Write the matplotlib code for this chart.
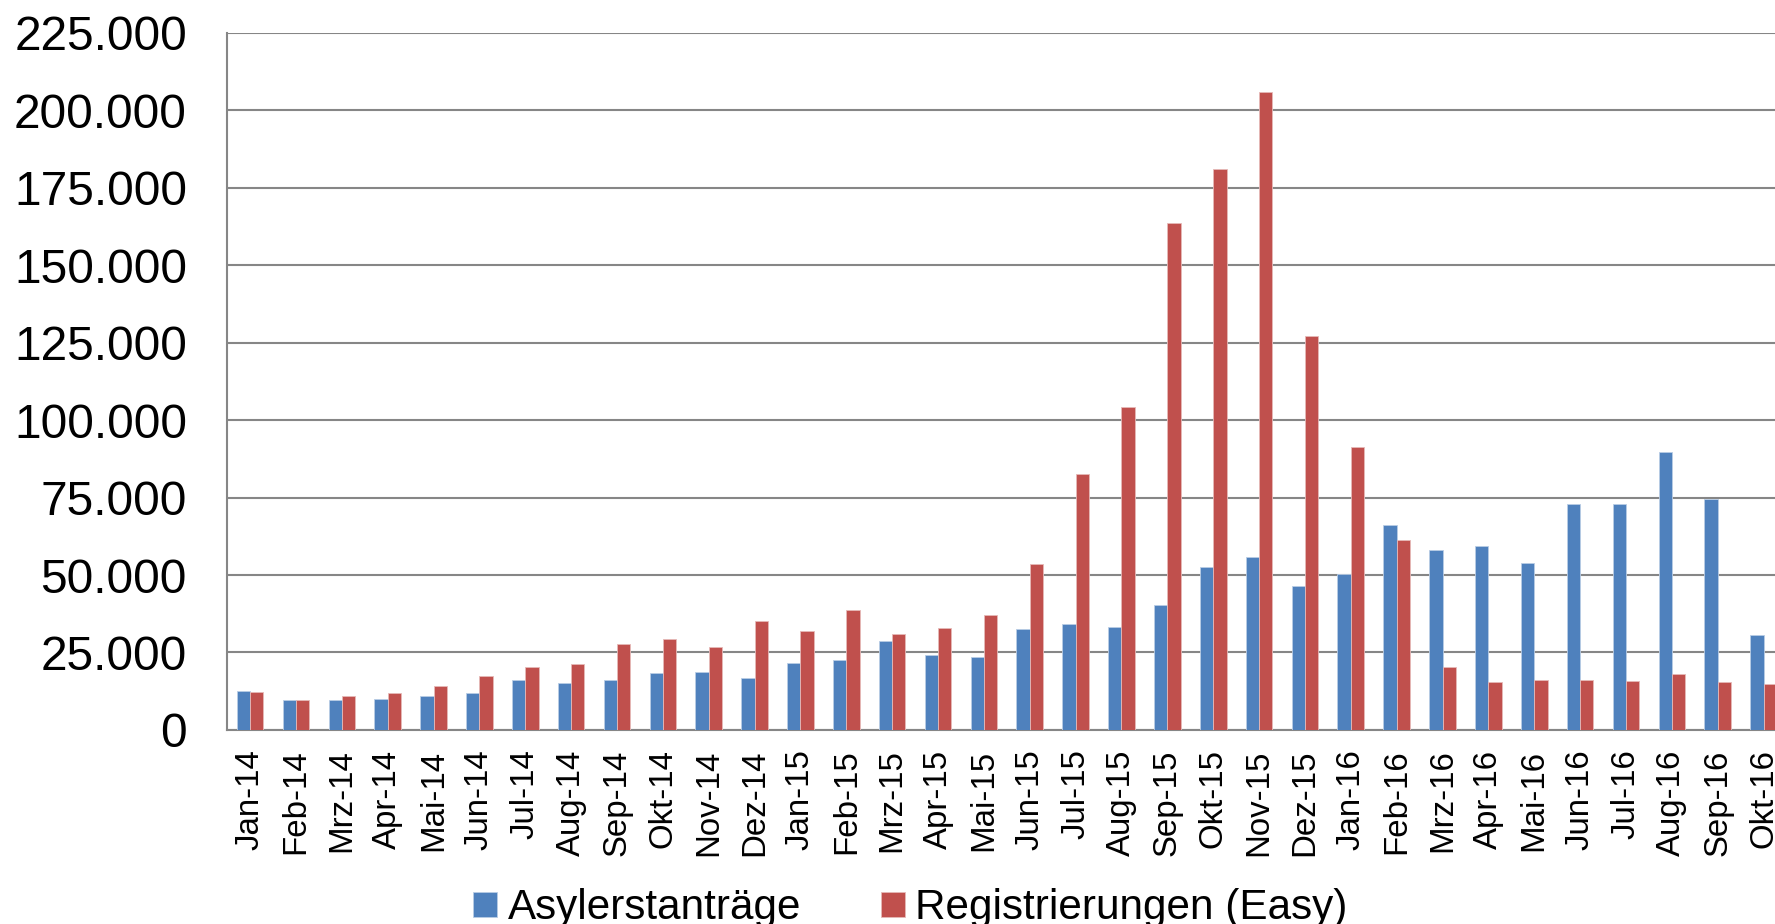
import numpy as np
import matplotlib
matplotlib.use("Agg")
import matplotlib.pyplot as plt
from matplotlib.ticker import FuncFormatter

plt.rcParams["font.family"] = ["Liberation Sans", "DejaVu Sans"]

months = [
    "Jan-14", "Feb-14", "Mrz-14", "Apr-14", "Mai-14", "Jun-14", "Jul-14", "Aug-14",
    "Sep-14", "Okt-14", "Nov-14", "Dez-14",
    "Jan-15", "Feb-15", "Mrz-15", "Apr-15", "Mai-15", "Jun-15", "Jul-15", "Aug-15",
    "Sep-15", "Okt-15", "Nov-15", "Dez-15",
    "Jan-16", "Feb-16", "Mrz-16", "Apr-16", "Mai-16", "Jun-16", "Jul-16", "Aug-16",
    "Sep-16", "Okt-16",
]
asyl = [
    12600, 9700, 9700, 10000, 11000, 11900, 16100, 15100, 16100, 18300, 18700, 16900,
    21600, 22700, 28600, 24300, 23600, 32600, 34200, 33300, 40300, 52600, 55800, 46600,
    50300, 66000, 58100, 59500, 53900, 72800, 72800, 89600, 74500, 30700,
]
easy = [
    12300, 9700, 10900, 12000, 14300, 17300, 20300, 21200, 27700, 29500, 26900, 35000,
    32000, 38700, 31000, 32900, 37100, 53600, 82600, 104300, 163700, 181000, 206000, 127100,
    91400, 61300, 20400, 15600, 16100, 16100, 15800, 18000, 15400, 14900,
]

blue = "#4F81BD"
red = "#C0504D"
grid_col = "#868686"

fig = plt.figure(figsize=(17.75, 9.24), dpi=100)
ax = fig.add_axes([0.128, 0.21, 0.872, 0.7546])

x = np.arange(len(months))
w = 0.29
ax.bar(x - w / 2, asyl, w, color=blue, edgecolor="#b9cde5", linewidth=0.6,
       label="Asylerstanträge", zorder=3)
ax.bar(x + w / 2, easy, w, color=red, edgecolor="#e6b9b8", linewidth=0.6,
       label="Registrierungen (Easy)", zorder=3)

ax.set_ylim(0, 225000)
ax.set_yticks(np.arange(0, 225001, 25000))
ax.yaxis.set_major_formatter(FuncFormatter(lambda v, p: f"{int(v):,}".replace(",", ".")))
ax.set_xlim(-0.5, 33.25)
ax.set_xticks(x)
ax.set_xticklabels(months, rotation=90, fontsize=23.8)
ax.tick_params(axis="y", labelsize=34.5, length=0, pad=29)
ax.tick_params(axis="x", length=0, pad=14)

ax.grid(axis="y", color=grid_col, linewidth=1.5, zorder=0)
ax.set_axisbelow(True)
for s in ["top", "right"]:
    ax.spines[s].set_visible(False)
for s in ["left", "bottom"]:
    ax.spines[s].set_color(grid_col)
    ax.spines[s].set_linewidth(1.5)

fig.legend(loc="center", bbox_to_anchor=(0.513, 0.017), ncol=2, frameon=False,
           fontsize=30.4, handlelength=0.56, handleheight=0.56, handletextpad=0.25,
           columnspacing=1.9)

fig.savefig("out.png", dpi=100)
